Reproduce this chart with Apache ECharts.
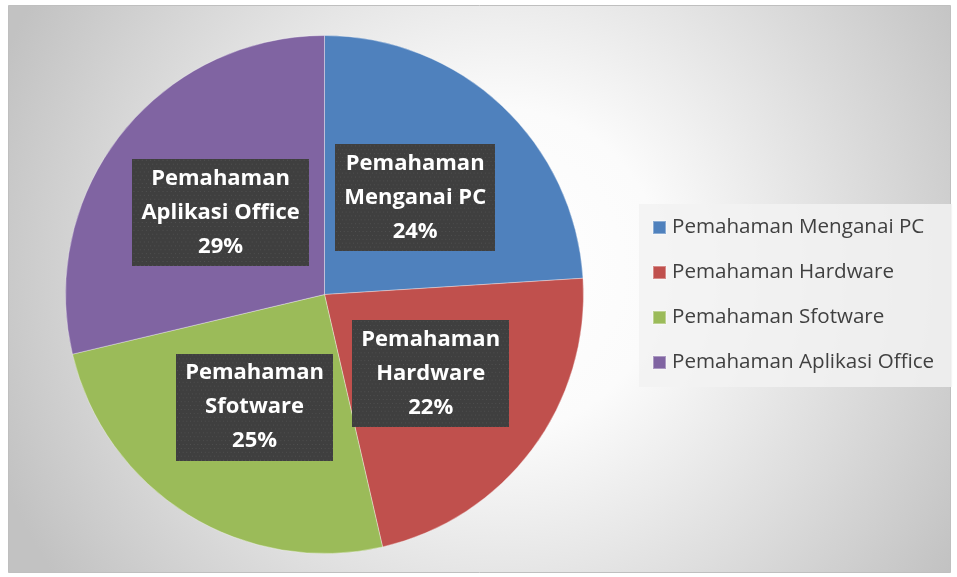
<!DOCTYPE html>
<html>
<head>
<meta charset="utf-8">
<script src="https://cdn.jsdelivr.net/npm/echarts@6/dist/echarts.min.js"></script>
<style>
html,body{margin:0;padding:0;background:#fff;}
#main{width:957px;height:577px;}
</style>
</head>
<body>
<div id="main"></div>
<script>
const categories = ['Pemahaman Menganai PC', 'Pemahaman Hardware', 'Pemahaman Sfotware', 'Pemahaman Aplikasi Office'];
const values = [24.0, 22.4, 24.9, 28.7];
const colors = ['#4f81bd', '#c0504d', '#9bbb59', '#8064a2'];

// dotted dark texture for the data label boxes
function makeTexture() {
  const c = document.createElement('canvas');
  c.width = 170; c.height = 110;
  const g = c.getContext('2d');
  g.fillStyle = '#3f3f3f';
  g.fillRect(0, 0, c.width, c.height);
  g.fillStyle = '#515151';
  for (let y = 1; y < c.height; y += 4) {
    for (let x = ((y - 1) / 4) % 2 ? 3 : 1; x < c.width; x += 4) {
      g.fillRect(x, y, 1, 1);
    }
  }
  return c;
}
const texture = makeTexture();

const chart = echarts.init(document.getElementById('main'), null, {renderer: 'canvas'});
const option = {
  animation: false,
  backgroundColor: '#ffffff',
  graphic: [{
    type: 'rect',
    z: -10,
    silent: true,
    shape: {x: 8.5, y: 5.5, width: 942, height: 567},
    style: {
      stroke: '#bfbfbf',
      lineWidth: 1,
      fill: {
        type: 'radial', x: 500, y: 270, r: 540, global: true,
        colorStops: [
          {offset: 0, color: '#ffffff'},
          {offset: 0.3, color: '#fbfbfb'},
          {offset: 1, color: '#c2c2c2'}
        ]
      }
    }
  }],
  color: colors,
  legend: {
    orient: 'vertical',
    left: 639,
    top: 204,
    padding: [13, 18, 14, 13],
    itemGap: 24,
    itemWidth: 13,
    itemHeight: 13,
    icon: 'rect',
    backgroundColor: 'rgba(242,242,242,0.85)',
    textStyle: {
      fontFamily: 'Open Sans',
      fontSize: 20.6,
      lineHeight: 20,
      color: '#404040',
      padding: [0, 0, 0, 1]
    },
    data: categories
  },
  series: [{
    type: 'pie',
    center: [324.5, 294.5],
    radius: [0, 259],
    startAngle: 90,
    clockwise: true,
    itemStyle: {
      borderColor: 'rgba(255,255,255,0.35)',
      borderWidth: 1
    },
    label: {
      show: true,
      position: 'inside',
      formatter: function (p) {
        const i = p.name.indexOf(' ');
        return p.name.slice(0, i) + '\n' + p.name.slice(i + 1) + '\n' + Math.round(p.percent) + '%';
      },
      color: '#ffffff',
      fontFamily: 'Open Sans',
      fontWeight: 'bold',
      fontSize: 22,
      lineHeight: 34,
      align: 'center',
      backgroundColor: {image: texture},
      padding: [3, 9, 2, 9],
      shadowColor: 'rgba(0,0,0,0.35)',
      shadowBlur: 3,
      shadowOffsetX: 1,
      shadowOffsetY: 2
    },
    labelLine: {show: false},
    emphasis: {disabled: true},
    data: categories.map((n, i) => ({name: n, value: values[i]}))
  }]
};
chart.setOption(option);
</script>
</body>
</html>
